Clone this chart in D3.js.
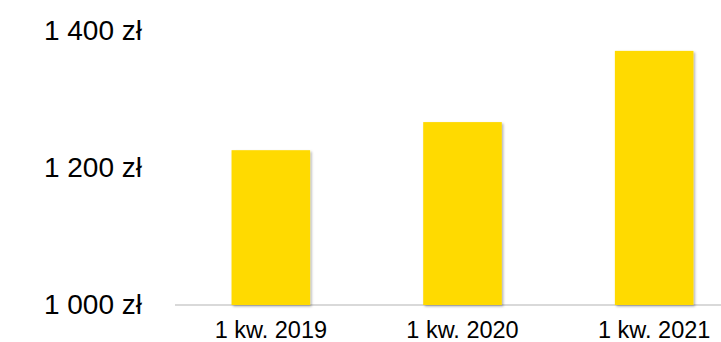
<!DOCTYPE html>
<html>
<head>
<meta charset="utf-8">
<script src="https://cdn.jsdelivr.net/npm/d3@7"></script>
<style>
  html, body { margin: 0; padding: 0; background: #fff; }
  svg { display: block; font-family: "Liberation Sans", Arial, sans-serif; }
</style>
</head>
<body>
<svg id="chart" width="721" height="342"></svg>
<script>
// Average value per quarter
const categories = ["1 kw. 2019", "1 kw. 2020", "1 kw. 2021"];
const values = [1226, 1267, 1371];
const yTicks = [1000, 1200, 1400];

const svg = d3.select("#chart");

const x = d3.scaleBand()
  .domain(categories)
  .range([175, 750])
  .paddingInner(0.59)
  .paddingOuter(0.295);

const y = d3.scaleLinear()
  .domain([1000, 1400])
  .range([305, 31]);

const fmt = v => d3.format(",")(v).replace(/,/g, " ") + " zł";

// soft shadow under the bars
const defs = svg.append("defs");
const f = defs.append("filter").attr("id", "shadow")
  .attr("x", "-10%").attr("y", "-10%").attr("width", "130%").attr("height", "130%");
f.append("feDropShadow")
  .attr("dx", 1.5).attr("dy", 1.5).attr("stdDeviation", 0.8)
  .attr("flood-color", "#000").attr("flood-opacity", 0.3);

// baseline
svg.append("line")
  .attr("x1", 175).attr("x2", 721)
  .attr("y1", y(1000)).attr("y2", y(1000))
  .attr("stroke", "#d9d9d9").attr("stroke-width", 2);

// bars
svg.append("g").selectAll("rect")
  .data(values)
  .join("rect")
  .attr("x", (d, i) => x(categories[i]))
  .attr("width", x.bandwidth())
  .attr("y", d => y(d))
  .attr("height", d => y(1000) - y(d))
  .attr("fill", "#FFDA00")
  .attr("filter", "url(#shadow)");

// y axis labels
const yAxis = d3.axisLeft(y).tickValues(yTicks).tickFormat(fmt).tickSize(0).tickPadding(0);
svg.append("g")
  .attr("transform", "translate(142,0)")
  .call(yAxis)
  .call(g => g.select(".domain").remove())
  .call(g => g.selectAll("text")
    .attr("font-family", "Liberation Sans, Arial, sans-serif")
    .attr("font-size", 28).attr("fill", "#000"));

// x axis labels
const xAxis = d3.axisBottom(x).tickSize(0).tickPadding(0);
svg.append("g")
  .attr("transform", "translate(0,321)")
  .call(xAxis)
  .call(g => g.select(".domain").remove())
  .call(g => g.selectAll("text")
    .attr("font-family", "Liberation Sans, Arial, sans-serif")
    .attr("font-size", 23.5).attr("fill", "#000"));
</script>
</body>
</html>
